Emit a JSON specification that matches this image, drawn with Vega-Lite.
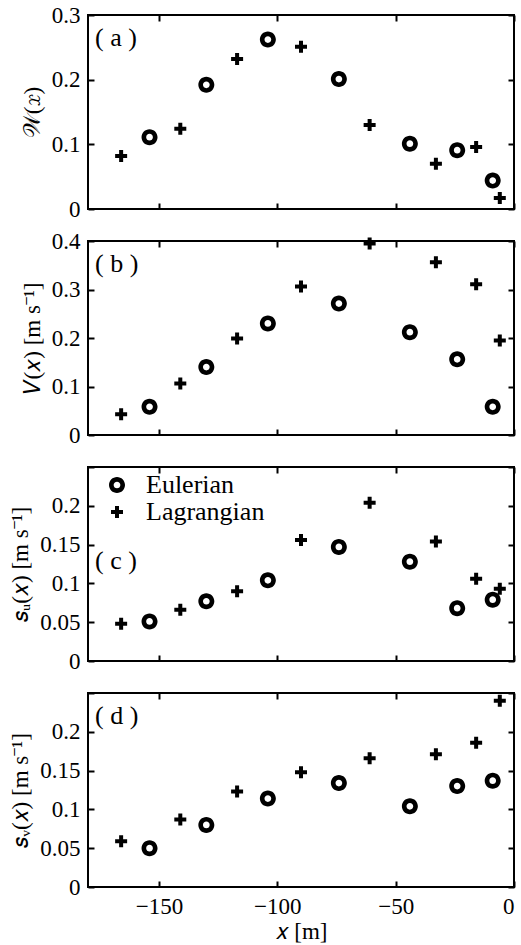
{
  "$schema": "https://vega.github.io/schema/vega-lite/v6.json",
  "background": "white",
  "padding": {"left": 8, "top": 3, "right": 5, "bottom": 3},
  "config": {
    "view": {"stroke": "black", "strokeWidth": 2},
    "axis": {
      "domain": false, "grid": false,
      "tickColor": "black", "tickWidth": 2, "tickSize": -6,
      "labelFont": "serif", "labelFontSize": 23, "labelColor": "black", "labelPadding": 14,
      "titleFont": "serif", "titleFontSize": 23, "titleFontWeight": "normal", "titleColor": "black", "titlePadding": 7
    }
  },
  "data": {
    "values": [
      {"panel": "a", "series": "Eulerian", "x": -154, "y": 0.111},
      {"panel": "a", "series": "Eulerian", "x": -130, "y": 0.192},
      {"panel": "a", "series": "Eulerian", "x": -104, "y": 0.262},
      {"panel": "a", "series": "Eulerian", "x": -74, "y": 0.201},
      {"panel": "a", "series": "Eulerian", "x": -44, "y": 0.101},
      {"panel": "a", "series": "Eulerian", "x": -24, "y": 0.091},
      {"panel": "a", "series": "Eulerian", "x": -9, "y": 0.044},
      {"panel": "a", "series": "Lagrangian", "x": -166, "y": 0.082},
      {"panel": "a", "series": "Lagrangian", "x": -141, "y": 0.124},
      {"panel": "a", "series": "Lagrangian", "x": -117, "y": 0.232},
      {"panel": "a", "series": "Lagrangian", "x": -90, "y": 0.251},
      {"panel": "a", "series": "Lagrangian", "x": -61, "y": 0.130},
      {"panel": "a", "series": "Lagrangian", "x": -33, "y": 0.070},
      {"panel": "a", "series": "Lagrangian", "x": -16, "y": 0.096},
      {"panel": "a", "series": "Lagrangian", "x": -6, "y": 0.017},
      {"panel": "b", "series": "Eulerian", "x": -154, "y": 0.058},
      {"panel": "b", "series": "Eulerian", "x": -130, "y": 0.140},
      {"panel": "b", "series": "Eulerian", "x": -104, "y": 0.230},
      {"panel": "b", "series": "Eulerian", "x": -74, "y": 0.271},
      {"panel": "b", "series": "Eulerian", "x": -44, "y": 0.212},
      {"panel": "b", "series": "Eulerian", "x": -24, "y": 0.156},
      {"panel": "b", "series": "Eulerian", "x": -9, "y": 0.058},
      {"panel": "b", "series": "Lagrangian", "x": -166, "y": 0.043},
      {"panel": "b", "series": "Lagrangian", "x": -141, "y": 0.106},
      {"panel": "b", "series": "Lagrangian", "x": -117, "y": 0.199},
      {"panel": "b", "series": "Lagrangian", "x": -90, "y": 0.306},
      {"panel": "b", "series": "Lagrangian", "x": -61, "y": 0.395},
      {"panel": "b", "series": "Lagrangian", "x": -33, "y": 0.356},
      {"panel": "b", "series": "Lagrangian", "x": -16, "y": 0.311},
      {"panel": "b", "series": "Lagrangian", "x": -6, "y": 0.195},
      {"panel": "c", "series": "Eulerian", "x": -154, "y": 0.051},
      {"panel": "c", "series": "Eulerian", "x": -130, "y": 0.077},
      {"panel": "c", "series": "Eulerian", "x": -104, "y": 0.104},
      {"panel": "c", "series": "Eulerian", "x": -74, "y": 0.147},
      {"panel": "c", "series": "Eulerian", "x": -44, "y": 0.128},
      {"panel": "c", "series": "Eulerian", "x": -24, "y": 0.068},
      {"panel": "c", "series": "Eulerian", "x": -9, "y": 0.079},
      {"panel": "c", "series": "Lagrangian", "x": -166, "y": 0.048},
      {"panel": "c", "series": "Lagrangian", "x": -141, "y": 0.066},
      {"panel": "c", "series": "Lagrangian", "x": -117, "y": 0.090},
      {"panel": "c", "series": "Lagrangian", "x": -90, "y": 0.156},
      {"panel": "c", "series": "Lagrangian", "x": -61, "y": 0.204},
      {"panel": "c", "series": "Lagrangian", "x": -33, "y": 0.154},
      {"panel": "c", "series": "Lagrangian", "x": -16, "y": 0.106},
      {"panel": "c", "series": "Lagrangian", "x": -6, "y": 0.093},
      {"panel": "d", "series": "Eulerian", "x": -154, "y": 0.050},
      {"panel": "d", "series": "Eulerian", "x": -130, "y": 0.080},
      {"panel": "d", "series": "Eulerian", "x": -104, "y": 0.114},
      {"panel": "d", "series": "Eulerian", "x": -74, "y": 0.134},
      {"panel": "d", "series": "Eulerian", "x": -44, "y": 0.104},
      {"panel": "d", "series": "Eulerian", "x": -24, "y": 0.130},
      {"panel": "d", "series": "Eulerian", "x": -9, "y": 0.137},
      {"panel": "d", "series": "Lagrangian", "x": -166, "y": 0.059},
      {"panel": "d", "series": "Lagrangian", "x": -141, "y": 0.087},
      {"panel": "d", "series": "Lagrangian", "x": -117, "y": 0.123},
      {"panel": "d", "series": "Lagrangian", "x": -90, "y": 0.148},
      {"panel": "d", "series": "Lagrangian", "x": -61, "y": 0.166},
      {"panel": "d", "series": "Lagrangian", "x": -33, "y": 0.171},
      {"panel": "d", "series": "Lagrangian", "x": -16, "y": 0.186},
      {"panel": "d", "series": "Lagrangian", "x": -6, "y": 0.240}
    ]
  },
  "bounds": "flush",
  "spacing": 32,
  "resolve": {"legend": {"shape": "independent"}},
  "vconcat": [
    {
      "width": 426, "height": 194,
      "transform": [{"filter": "datum.panel === 'a'"}],
      "layer": [
        {
          "mark": {"type": "point", "filled": true, "fill": "black", "strokeWidth": 0, "size": 256, "opacity": 1},
          "encoding": {
            "x": {"field": "x", "type": "quantitative", "scale": {"domain": [-180, 0], "nice": false}, "axis": {"orient": "bottom", "tickCount": 4, "labels": false, "title": null}},
            "y": {"field": "y", "type": "quantitative", "scale": {"domain": [0, 0.3], "nice": false}, "axis": {"tickCount": 3, "format": "~g", "title": "𝒲(𝑥)"}},
            "shape": {"field": "series", "type": "nominal", "scale": {"domain": ["Eulerian", "Lagrangian"], "range": ["M-1,0A1,1,0,1,0,1,0A1,1,0,1,0,-1,0ZM-0.42,0A0.42,0.42,0,1,1,0.42,0A0.42,0.42,0,1,1,-0.42,0Z", "M-0.25,-0.75L0.25,-0.75L0.25,-0.25L0.75,-0.25L0.75,0.25L0.25,0.25L0.25,0.75L-0.25,0.75L-0.25,0.25L-0.75,0.25L-0.75,-0.25L-0.25,-0.25Z"]}, "legend": null}
          }
        },
        {
          "mark": {"type": "point", "opacity": 0},
          "encoding": {
            "x": {"field": "x", "type": "quantitative", "scale": {"domain": [-180, 0], "nice": false}, "axis": {"orient": "top", "tickCount": 4, "labels": false, "title": null}},
            "y": {"field": "y", "type": "quantitative", "scale": {"domain": [0, 0.3], "nice": false}, "axis": {"orient": "right", "tickCount": 3, "labels": false, "title": null}}
          }
        },
        {
          "data": {"values": [{"label": "( a )"}]},
          "mark": {"type": "text", "align": "left", "baseline": "middle", "fontSize": 26, "font": "serif", "color": "black"},
          "encoding": {
            "text": {"field": "label"},
            "x": {"datum": -177, "type": "quantitative", "axis": null},
            "y": {"datum": 0.264, "type": "quantitative", "axis": null}
          }
        }
      ],
      "resolve": {"axis": {"x": "independent", "y": "independent"}}
    },
    {
      "width": 426, "height": 194,
      "transform": [{"filter": "datum.panel === 'b'"}],
      "layer": [
        {
          "mark": {"type": "point", "filled": true, "fill": "black", "strokeWidth": 0, "size": 256, "opacity": 1},
          "encoding": {
            "x": {"field": "x", "type": "quantitative", "scale": {"domain": [-180, 0], "nice": false}, "axis": {"orient": "bottom", "tickCount": 4, "labels": false, "title": null}},
            "y": {"field": "y", "type": "quantitative", "scale": {"domain": [0, 0.4], "nice": false}, "axis": {"tickCount": 4, "format": "~g", "title": "𝑉(𝑥) [m s⁻¹]"}},
            "shape": {"field": "series", "type": "nominal", "scale": {"domain": ["Eulerian", "Lagrangian"], "range": ["M-1,0A1,1,0,1,0,1,0A1,1,0,1,0,-1,0ZM-0.42,0A0.42,0.42,0,1,1,0.42,0A0.42,0.42,0,1,1,-0.42,0Z", "M-0.25,-0.75L0.25,-0.75L0.25,-0.25L0.75,-0.25L0.75,0.25L0.25,0.25L0.25,0.75L-0.25,0.75L-0.25,0.25L-0.75,0.25L-0.75,-0.25L-0.25,-0.25Z"]}, "legend": null}
          }
        },
        {
          "mark": {"type": "point", "opacity": 0},
          "encoding": {
            "x": {"field": "x", "type": "quantitative", "scale": {"domain": [-180, 0], "nice": false}, "axis": {"orient": "top", "tickCount": 4, "labels": false, "title": null}},
            "y": {"field": "y", "type": "quantitative", "scale": {"domain": [0, 0.4], "nice": false}, "axis": {"orient": "right", "tickCount": 4, "labels": false, "title": null}}
          }
        },
        {
          "data": {"values": [{"label": "( b )"}]},
          "mark": {"type": "text", "align": "left", "baseline": "middle", "fontSize": 26, "font": "serif", "color": "black"},
          "encoding": {
            "text": {"field": "label"},
            "x": {"datum": -177, "type": "quantitative", "axis": null},
            "y": {"datum": 0.352, "type": "quantitative", "axis": null}
          }
        }
      ],
      "resolve": {"axis": {"x": "independent", "y": "independent"}}
    },
    {
      "width": 426, "height": 194,
      "transform": [{"filter": "datum.panel === 'c'"}],
      "layer": [
        {
          "mark": {"type": "point", "filled": true, "fill": "black", "strokeWidth": 0, "size": 256, "opacity": 1},
          "encoding": {
            "x": {"field": "x", "type": "quantitative", "scale": {"domain": [-180, 0], "nice": false}, "axis": {"orient": "bottom", "tickCount": 4, "labels": false, "title": null}},
            "y": {"field": "y", "type": "quantitative", "scale": {"domain": [0, 0.25], "nice": false}, "axis": {"tickCount": 5, "format": "~g", "labelExpr": "datum.value > 0.24 ? '' : datum.label", "title": "𝑠ᵤ(𝑥) [m s⁻¹]"}},
            "shape": {"field": "series", "type": "nominal", "scale": {"domain": ["Eulerian", "Lagrangian"], "range": ["M-1,0A1,1,0,1,0,1,0A1,1,0,1,0,-1,0ZM-0.42,0A0.42,0.42,0,1,1,0.42,0A0.42,0.42,0,1,1,-0.42,0Z", "M-0.25,-0.75L0.25,-0.75L0.25,-0.25L0.75,-0.25L0.75,0.25L0.25,0.25L0.25,0.75L-0.25,0.75L-0.25,0.25L-0.75,0.25L-0.75,-0.25L-0.25,-0.25Z"]},
              "legend": {"orient": "none", "legendX": 16, "legendY": 5, "title": null, "padding": 0, "labelFont": "serif", "labelFontSize": 26, "labelColor": "black", "labelOffset": 16, "symbolSize": 256, "symbolFillColor": "black", "symbolStrokeColor": "black", "symbolStrokeWidth": 0, "rowPadding": 1, "labelLimit": 300}}
          }
        },
        {
          "mark": {"type": "point", "opacity": 0},
          "encoding": {
            "x": {"field": "x", "type": "quantitative", "scale": {"domain": [-180, 0], "nice": false}, "axis": {"orient": "top", "tickCount": 4, "labels": false, "title": null}},
            "y": {"field": "y", "type": "quantitative", "scale": {"domain": [0, 0.25], "nice": false}, "axis": {"orient": "right", "tickCount": 5, "labels": false, "title": null}}
          }
        },
        {
          "data": {"values": [{"label": "( c )"}]},
          "mark": {"type": "text", "align": "left", "baseline": "middle", "fontSize": 26, "font": "serif", "color": "black"},
          "encoding": {
            "text": {"field": "label"},
            "x": {"datum": -177, "type": "quantitative", "axis": null},
            "y": {"datum": 0.129, "type": "quantitative", "axis": null}
          }
        }
      ],
      "resolve": {"axis": {"x": "independent", "y": "independent"}}
    },
    {
      "width": 426, "height": 194,
      "transform": [{"filter": "datum.panel === 'd'"}],
      "layer": [
        {
          "mark": {"type": "point", "filled": true, "fill": "black", "strokeWidth": 0, "size": 256, "opacity": 1},
          "encoding": {
            "x": {"field": "x", "type": "quantitative", "scale": {"domain": [-180, 0], "nice": false}, "axis": {"orient": "bottom", "tickCount": 4, "title": "𝑥 [m]", "titlePadding": 2}},
            "y": {"field": "y", "type": "quantitative", "scale": {"domain": [0, 0.25], "nice": false}, "axis": {"tickCount": 5, "format": "~g", "labelExpr": "datum.value > 0.24 ? '' : datum.label", "title": "𝑠ᵥ(𝑥) [m s⁻¹]"}},
            "shape": {"field": "series", "type": "nominal", "scale": {"domain": ["Eulerian", "Lagrangian"], "range": ["M-1,0A1,1,0,1,0,1,0A1,1,0,1,0,-1,0ZM-0.42,0A0.42,0.42,0,1,1,0.42,0A0.42,0.42,0,1,1,-0.42,0Z", "M-0.25,-0.75L0.25,-0.75L0.25,-0.25L0.75,-0.25L0.75,0.25L0.25,0.25L0.25,0.75L-0.25,0.75L-0.25,0.25L-0.75,0.25L-0.75,-0.25L-0.25,-0.25Z"]}, "legend": null}
          }
        },
        {
          "mark": {"type": "point", "opacity": 0},
          "encoding": {
            "x": {"field": "x", "type": "quantitative", "scale": {"domain": [-180, 0], "nice": false}, "axis": {"orient": "top", "tickCount": 4, "labels": false, "title": null}},
            "y": {"field": "y", "type": "quantitative", "scale": {"domain": [0, 0.25], "nice": false}, "axis": {"orient": "right", "tickCount": 5, "labels": false, "title": null}}
          }
        },
        {
          "data": {"values": [{"label": "( d )"}]},
          "mark": {"type": "text", "align": "left", "baseline": "middle", "fontSize": 26, "font": "serif", "color": "black"},
          "encoding": {
            "text": {"field": "label"},
            "x": {"datum": -177, "type": "quantitative", "axis": null},
            "y": {"datum": 0.22, "type": "quantitative", "axis": null}
          }
        }
      ],
      "resolve": {"axis": {"x": "independent", "y": "independent"}}
    }
  ]
}
